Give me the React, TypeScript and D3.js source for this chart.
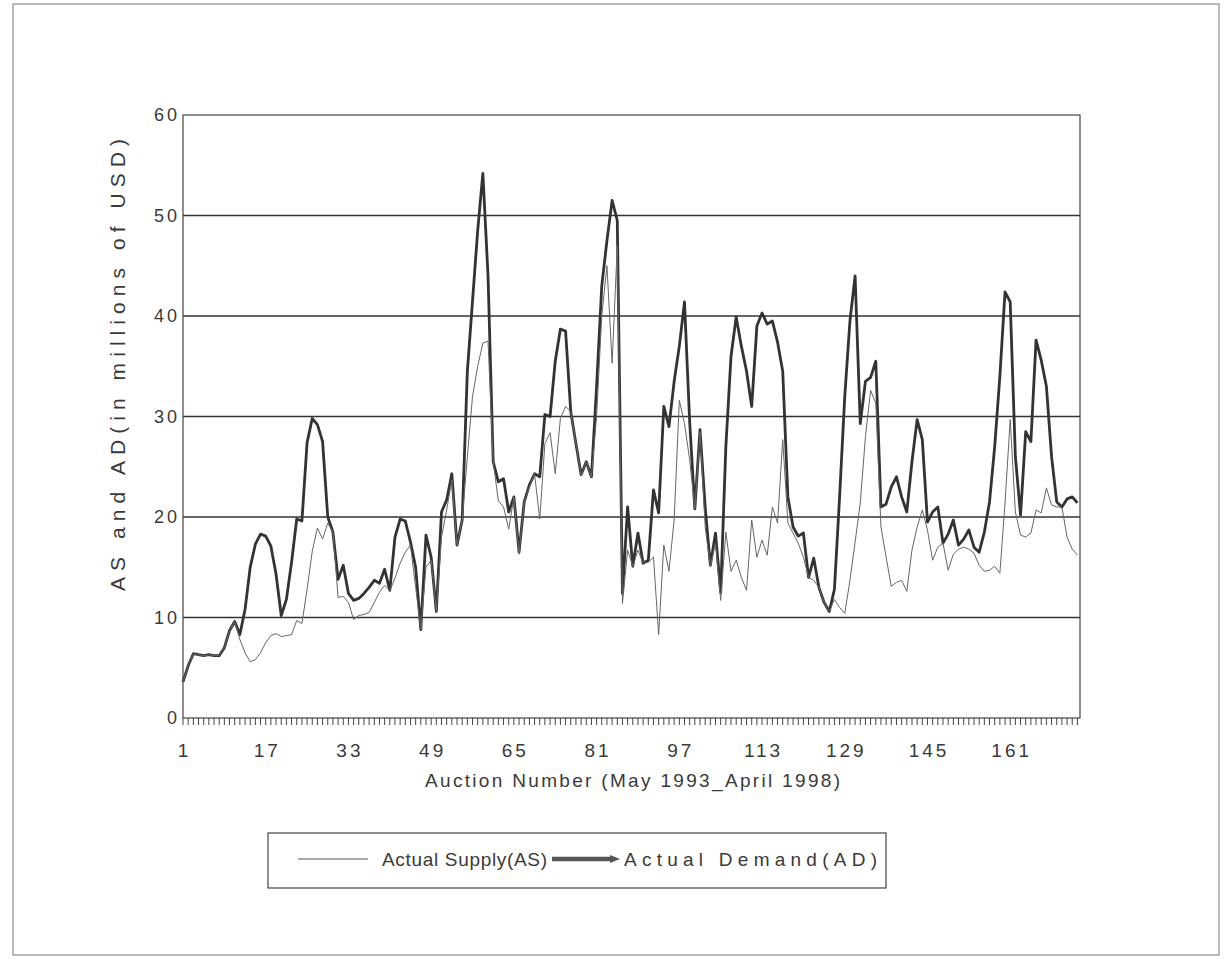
import React from "react";
import * as d3 from "d3";

const demand: number[] = [
  3.6, 5.2, 6.4, 6.3, 6.2, 6.3, 6.2, 6.2, 7.0, 8.7,
  9.6, 8.3, 10.8, 15.0, 17.3, 18.3, 18.1, 17.1, 14.3, 10.2,
  11.8, 15.5, 19.8, 19.6, 27.4, 29.8, 29.2, 27.5, 20.0, 18.5,
  13.8, 15.2, 12.4, 11.7, 11.9, 12.4, 13.0, 13.7, 13.4, 14.8,
  12.7, 18.0, 19.8, 19.6, 17.5, 15.0, 8.8, 18.2, 16.0, 10.6,
  20.5, 21.7, 24.3, 17.2, 19.7, 34.5, 41.5, 48.5, 54.2, 44.0,
  25.5, 23.5, 23.8, 20.5, 22.0, 16.5, 21.5, 23.2, 24.3, 24.0,
  30.2, 30.0, 35.5, 38.7, 38.5, 30.5, 27.3, 24.2, 25.5, 24.0,
  33.0, 43.0, 47.5, 51.5, 49.5, 12.4, 21.0, 15.1, 18.4, 15.4,
  15.7, 22.7, 20.4, 31.0, 29.0, 33.5, 37.0, 41.4, 29.5, 20.8,
  28.7, 21.0, 15.2, 18.4, 12.5, 27.0, 36.0, 39.9, 37.0, 34.5,
  31.0, 39.0, 40.3, 39.2, 39.5, 37.4, 34.5, 22.0, 19.0, 18.1,
  18.4, 14.0, 15.9, 13.0, 11.5, 10.6, 12.8, 22.0, 32.0, 39.5,
  44.0, 29.3, 33.5, 33.9, 35.5, 21.0, 21.3, 23.0, 24.0, 22.0,
  20.5, 25.5, 29.7, 27.7, 19.5, 20.5, 21.0, 17.4, 18.3, 19.7,
  17.2, 17.8, 18.7, 17.0, 16.5, 18.5, 21.5, 27.0, 34.0, 42.4,
  41.4, 26.0, 20.2, 28.5, 27.5, 37.6, 35.6, 33.0, 26.0, 21.5,
  21.0, 21.8, 22.0, 21.4,
];

const supply: number[] = [
  3.6, 5.2, 6.4, 6.3, 6.2, 6.3, 6.2, 6.2, 7.0, 8.7,
  9.6, 7.8, 6.5, 5.6, 5.8, 6.5, 7.5, 8.2, 8.4, 8.1,
  8.2, 8.3, 9.7, 9.4, 12.8, 16.6, 18.9, 17.8, 19.4, 18.5,
  12.0, 12.1, 11.5, 9.8, 10.2, 10.3, 10.5, 11.5, 12.5, 13.2,
  12.7, 13.9, 15.4, 16.5, 17.2, 13.0, 8.8, 15.0, 15.7, 10.6,
  18.0, 20.7, 23.7, 17.2, 19.7, 26.0, 32.0, 35.0, 37.3, 37.5,
  25.5, 21.6, 21.0, 18.8, 22.0, 16.3, 21.5, 23.0, 24.3, 19.8,
  27.3, 28.4, 24.3, 29.8, 31.0, 30.5, 27.3, 24.1, 25.5, 24.0,
  30.0, 40.0, 45.0, 35.3, 47.0, 11.4, 16.7, 15.1, 16.7, 15.4,
  15.5, 16.0, 8.3, 17.2, 14.6, 19.7, 31.6, 29.3, 25.7, 20.8,
  28.5, 19.0, 15.1, 17.4, 11.7, 18.5, 14.6, 15.7, 14.0, 12.7,
  19.7, 16.0, 17.7, 16.2, 21.0, 19.4, 27.7, 19.4, 18.4, 17.4,
  16.0, 14.0, 13.7, 13.0, 11.5, 10.6, 11.8, 11.0, 10.4, 13.7,
  17.5, 21.4, 28.0, 32.6, 31.3, 19.0, 16.0, 13.1, 13.5, 13.7,
  12.6, 16.7, 19.0, 20.7, 18.7, 15.7, 17.0, 17.4, 14.7, 16.3,
  16.8, 17.0, 16.8, 16.4, 15.2, 14.6, 14.7, 15.1, 14.4, 21.4,
  29.7, 20.5, 18.2, 18.0, 18.4, 20.7, 20.4, 22.9, 21.2, 21.0,
  21.0, 18.0, 16.8, 16.2,
];

const xTickLabels: number[] = [1, 17, 33, 49, 65, 81, 97, 113, 129, 145, 161];
const yTickLabels: number[] = [0, 10, 20, 30, 40, 50, 60];
const seriesNames: string[] = ["Actual Supply(AS)", "Actual Demand(AD)"];

const FONT = "'Liberation Sans', Arial, sans-serif";
const TXT = "#3a3a3a";

export default function App() {
  const left = 183, right = 1080, top = 115, bottom = 718;
  const x = d3.scaleLinear().domain([1, 174.5]).range([left, right]);
  const y = d3.scaleLinear().domain([0, 60]).range([bottom, top]);

  const line = d3
    .line<number>()
    .x((_, i) => x(i + 1))
    .y((d) => y(d));

  const minor = d3.range(1, demand.length + 1);

  return (
    <svg
      width={1225}
      height={959}
      style={{ position: "absolute", left: 0, top: 0, background: "#fff" }}
    >
      <rect x={0} y={0} width={1225} height={959} fill="#fff" />
      <rect x={13} y={4} width={1206} height={951} fill="none" stroke="#777" strokeWidth={1} />

      {yTickLabels
        .filter((v) => v > 0 && v < 60)
        .map((v) => (
          <line key={"g" + v} x1={left} x2={right} y1={y(v)} y2={y(v)} stroke="#333" strokeWidth={1.6} />
        ))}

      <rect x={left} y={top} width={right - left} height={bottom - top} fill="none" stroke="#444" strokeWidth={1.2} />

      {minor.map((n) => (
        <line key={"t" + n} x1={x(n)} x2={x(n)} y1={bottom} y2={bottom + 7} stroke="#444" strokeWidth={1} />
      ))}

      <path d={line(demand) || ""} fill="none" stroke="#333" strokeWidth={2.8} strokeLinejoin="round" />
      <path d={line(supply) || ""} fill="none" stroke="#666" strokeWidth={1} strokeLinejoin="round" />

      {yTickLabels.map((v) => (
        <text
          key={"yl" + v}
          x={180}
          y={y(v) + 6}
          textAnchor="end"
          fontFamily={FONT}
          fontSize={18}
          letterSpacing={3}
          fill={TXT}
        >
          {v}
        </text>
      ))}

      {xTickLabels.map((n) => (
        <text
          key={"xl" + n}
          x={x(n) + 1.5}
          y={757}
          textAnchor="middle"
          fontFamily={FONT}
          fontSize={19}
          letterSpacing={3}
          fill={TXT}
        >
          {n}
        </text>
      ))}

      <text x={425} y={787} fontFamily={FONT} fontSize={19} fill={TXT} textLength={415} lengthAdjust="spacing">
        Auction Number (May 1993_April 1998)
      </text>

      <text
        transform="translate(125,591) rotate(-90)"
        x={0}
        y={0}
        fontFamily={FONT}
        fontSize={21}
        fill={TXT}
        textLength={452}
        lengthAdjust="spacing"
      >
        AS and AD(in millions of USD)
      </text>

      <rect x={268} y={833} width={618} height={55} fill="none" stroke="#444" strokeWidth={1.2} />
      <line x1={298} x2={368} y1={859} y2={859} stroke="#555" strokeWidth={1} />
      <text x={382} y={866} fontFamily={FONT} fontSize={19} fill={TXT} textLength={165} lengthAdjust="spacing">
        {seriesNames[0]}
      </text>
      <line x1={552} x2={612} y1={859} y2={859} stroke="#555" strokeWidth={4.5} />
      <path d="M610,855 L620,859 L610,863 Z" fill="#555" />
      <text x={624} y={866} fontFamily={FONT} fontSize={19} fill={TXT} textLength={253} lengthAdjust="spacing">
        {seriesNames[1]}
      </text>
    </svg>
  );
}
